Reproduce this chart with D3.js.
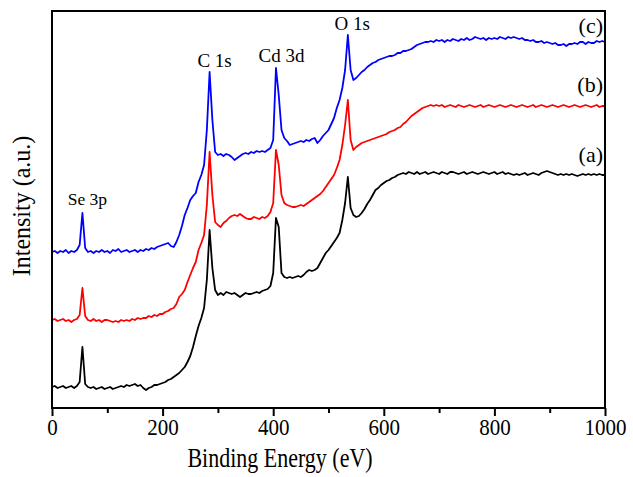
<!DOCTYPE html>
<html><head><meta charset="utf-8">
<script src="https://cdn.jsdelivr.net/npm/d3@7/dist/d3.min.js"></script>
<style>html,body{margin:0;padding:0;background:#fff;}svg{display:block;}</style>
</head><body>
<svg id="chart" width="633" height="477"></svg>
<script>
// Binding energy grid (eV), 5 eV steps
const energies = d3.range(0, 1001, 5);
// Intensity (a.u.), one value per energy
const seriesA = [
21,22,20,21,22,20,21,22,20,22,26,61,24,21,20,21,19,20,21,19,
20,21,19,20,21,22,21,23,22,23,24,22,23,20,18,20,21,23,23,24,
25,26,28,29,31,33,35,38,41,46,52,61,72,82,90,100,128,178,140,118,
113,115,113,116,115,114,115,113,111,113,115,114,114,115,116,115,117,118,119,122,
135,190,181,135,131,130,131,130,131,132,131,133,136,138,137,138,140,145,150,155,
158,162,166,170,175,188,205,231,200,193,191,192,195,199,204,208,213,218,220,223,
225,227,228,230,231,233,234,235,234,236,235,234,236,234,235,236,234,235,236,235,
234,236,235,234,236,236,235,234,235,236,234,235,236,235,234,235,236,235,234,235,
236,234,235,236,234,235,234,233,234,233,234,235,233,234,235,234,233,235,236,237,
236,235,234,233,234,233,234,233,234,233,232,233,234,233,234,233,234,233,234,233,
233];
const seriesB = [
88,89,87,88,89,87,88,86,88,89,93,120,92,88,87,89,87,88,86,88,
88,87,86,87,86,88,87,88,87,89,88,90,89,90,90,92,91,93,92,94,
94,96,97,99,100,104,111,114,118,126,133,140,146,158,165,173,203,256,213,186,
183,181,185,187,190,192,193,192,194,192,190,189,189,191,190,189,191,190,192,196,
205,258,243,213,205,203,202,201,201,202,203,202,204,206,208,210,212,214,217,221,
225,229,233,240,248,263,283,308,268,258,261,263,265,266,267,268,269,270,271,272,
273,274,276,277,278,280,281,284,286,289,292,294,296,298,300,301,302,303,302,303,
302,303,301,302,303,302,301,303,302,301,302,303,302,301,302,303,301,302,303,302,
301,302,303,302,301,302,303,302,301,302,303,302,301,302,303,301,302,303,302,301,
302,303,302,301,302,303,302,301,302,303,302,301,302,303,302,301,302,303,301,302,
302];
const seriesC = [
156,157,155,157,156,158,155,157,156,158,163,195,160,156,157,155,157,156,158,156,
157,155,158,157,159,156,157,158,156,157,158,156,158,157,159,158,160,159,161,162,
163,164,165,162,161,166,173,182,193,200,208,212,215,226,233,243,278,336,288,256,
253,254,252,254,253,251,248,250,252,254,255,254,256,255,257,256,257,256,258,260,
268,340,313,278,270,267,263,264,265,266,267,266,268,267,269,270,265,268,272,275,
278,284,290,300,308,320,338,373,338,328,330,333,336,338,341,343,345,346,348,349,
350,351,352,352,353,355,355,357,357,358,359,361,363,364,365,366,366,367,366,368,
367,368,366,368,367,369,368,367,369,368,370,368,369,371,370,369,370,368,370,369,
370,369,371,370,369,371,370,371,370,369,370,368,368,367,368,366,366,367,365,366,
365,364,365,363,363,364,362,364,364,365,364,366,366,364,366,365,365,367,366,367,
366];
const seriesNames = ["(a)", "(b)", "(c)"];
const seriesColors = ["#000000", "#ff0000", "#0000ff"];
const seriesLabelLevels = [246, 316, 375];
const xTicks = [0, 200, 400, 600, 800, 1000];
const xMinorTicks = [100, 300, 500, 700, 900];
const peakLabels = ["Se 3p", "C 1s", "Cd 3d", "O 1s"];
const peakLabelEnergies = [64, 294, 415, 543];
const peakLabelLevels = [203, 341, 346, 378];

const svg = d3.select("#chart");
const m = {left: 52, right: 28, top: 11, bottom: 69};
const W = 633, H = 477;
const x = d3.scaleLinear().domain([0, 1000]).range([m.left, W - m.right]);
const y = d3.scaleLinear().domain([0, 397]).range([H - m.bottom, m.top]);
const font = "'Liberation Serif','Times New Roman',serif";

const line = d3.line().x((d, i) => x(energies[i])).y(d => y(d));
[seriesA, seriesB, seriesC].forEach((s, k) => {
  svg.append("path").datum(s).attr("d", line)
    .attr("fill", "none").attr("stroke", seriesColors[k])
    .attr("stroke-width", 1.8).attr("stroke-linejoin", "round");
});

// frame
svg.append("rect").attr("x", m.left).attr("y", m.top)
  .attr("width", W - m.right - m.left).attr("height", H - m.bottom - m.top)
  .attr("fill", "none").attr("stroke", "#000").attr("stroke-width", 2);

// x axis
const xAxis = d3.axisBottom(x).tickValues(xTicks).tickSize(8).tickFormat(d3.format("d"));
const gx = svg.append("g").attr("transform", `translate(0,${H - m.bottom})`).call(xAxis);
gx.select(".domain").remove();
gx.selectAll(".tick line").attr("stroke-width", 2);
gx.selectAll(".tick text").attr("font-family", font).attr("font-size", 21).attr("fill", "#000")
  .attr("dy", null).attr("y", null)
  .attr("transform", "translate(0,27) scale(1,1.14)");
const xAxisMinor = d3.axisBottom(x).tickValues(xMinorTicks).tickSize(5).tickFormat("");
const gm = svg.append("g").attr("transform", `translate(0,${H - m.bottom})`).call(xAxisMinor);
gm.select(".domain").remove();
gm.selectAll(".tick line").attr("stroke-width", 2);

// axis titles
svg.append("text").attr("transform", "translate(280,467) scale(1,1.2)")
  .attr("text-anchor", "middle").attr("font-family", font).attr("font-size", 22)
  .text("Binding Energy (eV)");
svg.append("text").attr("transform", `translate(30,206) rotate(-90) scale(1,1.05)`)
  .attr("text-anchor", "middle").attr("font-family", font).attr("font-size", 24)
  .text("Intensity (a.u.)");

// peak labels
peakLabels.forEach((t, i) => {
  svg.append("text").attr("x", x(peakLabelEnergies[i])).attr("y", y(peakLabelLevels[i]))
    .attr("text-anchor", "middle").attr("font-family", font).attr("font-size", i === 0 ? 17.5 : 19)
    .text(t);
});

// series labels at right end
seriesNames.forEach((t, i) => {
  svg.append("text").attr("x", x(1000) - 2).attr("y", y(seriesLabelLevels[i]))
    .attr("text-anchor", "end").attr("font-family", font).attr("font-size", 22)
    .text(t);
});
</script>
</body></html>
